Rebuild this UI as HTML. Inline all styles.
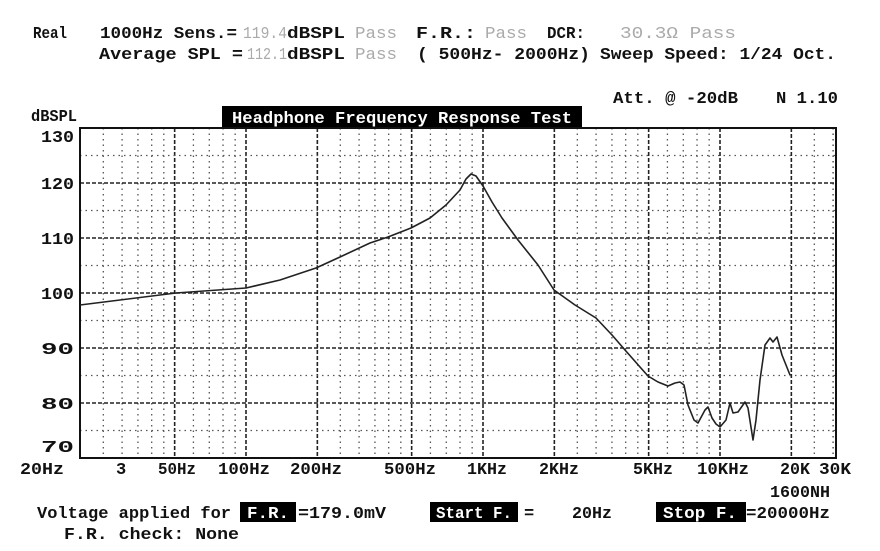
<!DOCTYPE html>
<html><head><meta charset="utf-8"><style>
html,body{margin:0;padding:0;background:#fff;}
svg{display:block;}
text{font-family:"Liberation Mono",monospace;font-weight:bold;font-size:17px;fill:#111;}
.g{fill:#aaa;font-weight:normal;}
.w{fill:#fff;}
</style></head><body>
<svg id="s" width="880" height="551" viewBox="0 0 880 551" xmlns="http://www.w3.org/2000/svg">
<text x="33" y="38" textLength="34" lengthAdjust="spacingAndGlyphs">Real</text>
<text x="100" y="38" textLength="137" lengthAdjust="spacingAndGlyphs">1000Hz Sens.=</text>
<text x="243" y="38" class="g" textLength="44" lengthAdjust="spacingAndGlyphs">119.4</text>
<text x="287" y="38" textLength="58" lengthAdjust="spacingAndGlyphs">dBSPL</text>
<text x="355" y="38" class="g" textLength="42" lengthAdjust="spacingAndGlyphs">Pass</text>
<text x="416" y="38" textLength="60" lengthAdjust="spacingAndGlyphs">F.R.:</text>
<text x="485" y="38" class="g" textLength="42" lengthAdjust="spacingAndGlyphs">Pass</text>
<text x="547" y="38" textLength="38" lengthAdjust="spacingAndGlyphs">DCR:</text>
<text x="620" y="38" class="g" textLength="116" lengthAdjust="spacingAndGlyphs">30.3Ω Pass</text>
<text x="99" y="59" textLength="144" lengthAdjust="spacingAndGlyphs">Average SPL =</text>
<text x="247" y="59" class="g" textLength="40" lengthAdjust="spacingAndGlyphs">112.1</text>
<text x="287" y="59" textLength="58" lengthAdjust="spacingAndGlyphs">dBSPL</text>
<text x="355" y="59" class="g" textLength="42" lengthAdjust="spacingAndGlyphs">Pass</text>
<text x="417" y="59" textLength="173" lengthAdjust="spacingAndGlyphs">(  500Hz- 2000Hz)</text>
<text x="600" y="59" textLength="236" lengthAdjust="spacingAndGlyphs">Sweep Speed: 1/24 Oct.</text>
<text x="613" y="103" textLength="125" lengthAdjust="spacingAndGlyphs">Att. @ -20dB</text>
<text x="776" y="103" textLength="62" lengthAdjust="spacingAndGlyphs">N 1.10</text>
<text x="31" y="121" textLength="46" lengthAdjust="spacingAndGlyphs">dBSPL</text>
<rect x="222" y="106" width="360" height="22" fill="#000"/>
<text x="232" y="123" class="w" textLength="340" lengthAdjust="spacingAndGlyphs">Headphone Frequency Response Test</text>
<g id="grid"></g>
<rect x="80" y="128" width="756" height="330" fill="none" stroke="#111" stroke-width="2"/>
<polyline id="curve" fill="none" stroke="#222" stroke-width="1.6" stroke-linejoin="round"/>
<g id="yl"></g>
<text x="20" y="474" textLength="44" lengthAdjust="spacingAndGlyphs">20Hz</text>
<text x="116" y="474">3</text>
<text x="158" y="474" textLength="38" lengthAdjust="spacingAndGlyphs">50Hz</text>
<text x="218" y="474" textLength="52" lengthAdjust="spacingAndGlyphs">100Hz</text>
<text x="290" y="474" textLength="52" lengthAdjust="spacingAndGlyphs">200Hz</text>
<text x="384" y="474" textLength="52" lengthAdjust="spacingAndGlyphs">500Hz</text>
<text x="467" y="474" textLength="40" lengthAdjust="spacingAndGlyphs">1KHz</text>
<text x="539" y="474" textLength="40" lengthAdjust="spacingAndGlyphs">2KHz</text>
<text x="633" y="474" textLength="40" lengthAdjust="spacingAndGlyphs">5KHz</text>
<text x="697" y="474" textLength="52" lengthAdjust="spacingAndGlyphs">10KHz</text>
<text x="780" y="474" textLength="30" lengthAdjust="spacingAndGlyphs">20K</text>
<text x="819" y="474" textLength="32" lengthAdjust="spacingAndGlyphs">30K</text>
<text x="770" y="497" textLength="60" lengthAdjust="spacingAndGlyphs">1600NH</text>
<text x="37" y="518" textLength="194" lengthAdjust="spacingAndGlyphs">Voltage applied for</text>
<rect x="240" y="502" width="56" height="20" fill="#000"/>
<text x="247" y="518" class="w" textLength="42" lengthAdjust="spacingAndGlyphs">F.R.</text>
<text x="298" y="518" textLength="88" lengthAdjust="spacingAndGlyphs">=179.0mV</text>
<rect x="430" y="502" width="88" height="20" fill="#000"/>
<text x="436" y="518" class="w" textLength="76" lengthAdjust="spacingAndGlyphs">Start F.</text>
<text x="524" y="518">=</text>
<text x="572" y="518" textLength="40" lengthAdjust="spacingAndGlyphs">20Hz</text>
<rect x="656" y="502" width="90" height="20" fill="#000"/>
<text x="663" y="518" class="w" textLength="74" lengthAdjust="spacingAndGlyphs">Stop F.</text>
<text x="746" y="518" textLength="84" lengthAdjust="spacingAndGlyphs">=20000Hz</text>
<text x="64" y="539" textLength="175" lengthAdjust="spacingAndGlyphs">F.R. check:  None</text>
</svg>
<script>
function X(f){return 483+237*Math.log10(f/1000);}
function Y(d){return 128+(130-d)*5.5;}
var g=document.getElementById("grid"),h="";
var minors=[2.5,3,3.5,4,4.5,6,7,8,9],majors=[2,5,10];
[10,100,1000,10000].forEach(function(dec){
  minors.forEach(function(m){var f=m*dec;if(f>20&&f<=30000){var x=X(f);h+='<line x1="'+x+'" y1="128" x2="'+x+'" y2="458" stroke="#555" stroke-width="1.3" stroke-dasharray="1.5,4"/>';}});
  majors.forEach(function(m){var f=m*dec;if(f>20&&f<=20000){var x=X(f);h+='<line x1="'+x+'" y1="128" x2="'+x+'" y2="458" stroke="#222" stroke-width="1.6" stroke-dasharray="4,2"/>';}});
});
h+='<line x1="'+X(30000)+'" y1="128" x2="'+X(30000)+'" y2="458" stroke="#555" stroke-width="1.3" stroke-dasharray="1.5,4"/>';
for(var d=75;d<130;d+=5){var y=Y(d);if(d%10==0)h+='<line x1="80" y1="'+y+'" x2="836" y2="'+y+'" stroke="#222" stroke-width="1.6" stroke-dasharray="4,2"/>';else h+='<line x1="80" y1="'+y+'" x2="836" y2="'+y+'" stroke="#555" stroke-width="1.3" stroke-dasharray="1.5,4"/>';}
g.innerHTML=h;
var yl="";for(var d=70;d<=130;d+=10){var b=Y(d)+6;if(d==130)b=142;if(d==70)b=452;yl+='<text x="74" y="'+b+'" text-anchor="end" textLength="33" lengthAdjust="spacingAndGlyphs">'+d+'</text>';}
document.getElementById("yl").innerHTML=yl;
var pts=[[80,305],[120,300],[176,293],[246,288],[280,280],[316,268],[340,257],[370,243],[388,237],[411,228],[430,218],[446,205],[460,190],[466,179],[471,174],[476,176],[483,186],[492,202],[502,218],[518,240],[538,265],[554,290],[575,305],[596,318],[612,335],[625,350],[640,367],[648,376],[658,382],[668,386],[675,383],[680,382],[684,385],[688,405],[694,420],[698,423],[705,410],[708,407],[712,418],[716,424],[720,427],[726,420],[730,403],[733,413],[738,412],[745,402],[748,408],[753,440],[756,420],[760,380],[765,345],[770,338],[773,342],[777,337],[782,355],[790,375]];
document.getElementById("curve").setAttribute("points",pts.map(function(p){return p.join(",");}).join(" "));
</script>
</body></html>
